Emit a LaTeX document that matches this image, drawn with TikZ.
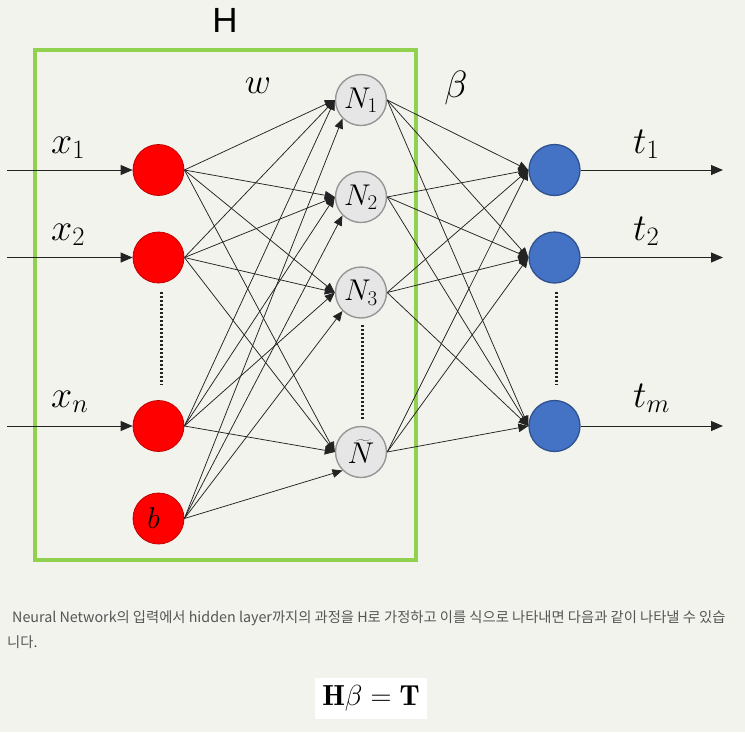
\documentclass[tikz,border=0pt]{standalone}
\usepackage{fix-cm}
\usepackage{fontspec}
\newfontfamily\krfont{Noto Sans CJK KR}
\newfontfamily\hfont{Liberation Sans}
\usetikzlibrary{arrows.meta}
\definecolor{bgc}{RGB}{243,243,238}
\definecolor{boxgreen}{RGB}{146,208,80}
\definecolor{inred}{RGB}{255,0,0}
\definecolor{inredb}{RGB}{192,0,0}
\definecolor{hidfill}{RGB}{230,230,230}
\definecolor{hidb}{RGB}{150,150,150}
\definecolor{outblue}{RGB}{68,114,196}
\definecolor{outblueb}{RGB}{47,82,143}
\definecolor{edgec}{RGB}{35,35,35}
\definecolor{txtgray}{RGB}{85,85,85}
\tikzset{
  neuron/.style={circle, minimum size=51pt, inner sep=0pt},
  inneuron/.style={neuron, fill=inred, draw=inredb, line width=0.8pt},
  hidneuron/.style={neuron, fill=hidfill, draw=hidb, line width=1.4pt, font=\fontsize{30}{30}\selectfont},
  outneuron/.style={neuron, fill=outblue, draw=outblueb, line width=1.3pt},
  conn/.style={draw=edgec, line width=0.75pt, -{Triangle[length=10pt,width=8.5pt]}},
  ioarrow/.style={draw=edgec, line width=1pt, -{Triangle[length=12pt,width=10pt]}},
  biglabel/.style={anchor=base west, inner sep=0pt, font=\fontsize{38}{38}\selectfont},
  vdots/.style={line width=3pt, dash pattern=on 2pt off 2pt, draw=edgec},
  captext/.style={anchor=base west, inner sep=0pt, text=txtgray, font=\krfont\fontsize{14.3}{14.3}\selectfont}
}
\begin{document}
\begin{tikzpicture}[x=1pt,y=-1pt]
\useasboundingbox (0,0) rectangle (745,732);
\fill[bgc] (0,0) rectangle (745,732);

% green box
\draw[boxgreen, line width=4pt] (35,50) rectangle (416,560);
\node[font=\hfont\fontsize{35}{35}\selectfont, inner sep=0pt] (Hlab) at (225,20) {H};
\node[font=\fontsize{36}{36}\selectfont, inner sep=0pt] (wlab) at (258,86) {$w$};
\node[font=\fontsize{38}{38}\selectfont, inner sep=0pt] (blab) at (456,88) {$\beta$};

% input neurons
\node[inneuron] (x1) at (158.5,170) {};
\node[inneuron] (x2) at (158.5,257.5) {};
\node[inneuron] (xn) at (158.5,426) {};
\node[inneuron, font=\fontsize{30}{30}\selectfont] (bb) at (158.5,518.5) {\raisebox{-3pt}{\hspace*{-10pt}$b$}};

% hidden neurons
\node[hidneuron] (h1) at (361,100) {\raisebox{1pt}{$N_1$}};
\node[hidneuron] (h2) at (361,197) {\raisebox{1pt}{$N_2$}};
\node[hidneuron] (h3) at (361,292.5) {\raisebox{1pt}{$N_3$}};
\node[hidneuron] (h4) at (361,452) {$\widetilde{N}$};

% output neurons
\node[outneuron] (o1) at (554.5,170) {};
\node[outneuron] (o2) at (554.5,257.5) {};
\node[outneuron] (o3) at (554.5,426) {};

% input arrows
\coordinate (i1) at (7,170);
\coordinate (i2) at (7,257.5);
\coordinate (i3) at (7,426);
\draw[ioarrow] (i1) -- (x1.west);
\draw[ioarrow] (i2) -- (x2.west);
\draw[ioarrow] (i3) -- (xn.west);
\node[biglabel] (lx1) at (51,153) {$x_1$};
\node[biglabel] (lx2) at (51,240) {$x_2$};
\node[biglabel] (lxn) at (51,407) {$x_n$};

% output arrows
\coordinate (e1) at (723,170);
\coordinate (e2) at (723,257.5);
\coordinate (e3) at (723,426);
\draw[ioarrow] (o1.east) -- (e1);
\draw[ioarrow] (o2.east) -- (e2);
\draw[ioarrow] (o3.east) -- (e3);
\node[biglabel] (lt1) at (633,153) {$t_1$};
\node[biglabel] (lt2) at (633,240) {$t_2$};
\node[biglabel] (ltm) at (633,407) {$t_m$};

% input -> hidden
\foreach \s in {x1,x2,xn}
  \foreach \t in {h1,h2,h3,h4}
    \draw[conn] (\s.east) -- (\t.west);
\foreach \t in {h1,h2,h3,h4}
  \draw[conn] (bb.east) -- (\t.225);

% hidden -> output
\foreach \s in {h1,h2,h3,h4}
  \foreach \t in {o1,o2,o3}
    \draw[conn] (\s.east) -- (\t.west);

% dotted lines
\coordinate (d1a) at (161,292); \coordinate (d1b) at (161,385);
\coordinate (d2a) at (362,325); \coordinate (d2b) at (362,420);
\coordinate (d3a) at (556,292); \coordinate (d3b) at (556,385);
\draw[vdots] (d1a) -- (d1b);
\draw[vdots] (d2a) -- (d2b);
\draw[vdots] (d3a) -- (d3b);

% caption text
\node[captext] (cap1) at (12,622)
  {Neural Network의 입력에서 hidden layer까지의 과정을 H로 가정하고 이를 식으로 나타내면 다음과 같이 나타낼 수 있습};
\node[captext] (cap2) at (7,647) {니다.};

% formula
\fill[white] (315,678) rectangle (427,719);
\node[inner sep=0pt, font=\fontsize{29}{29}\selectfont] (formula) at (371,698.5) {$\mathbf{H}\beta=\mathbf{T}$};
\end{tikzpicture}
\end{document}
